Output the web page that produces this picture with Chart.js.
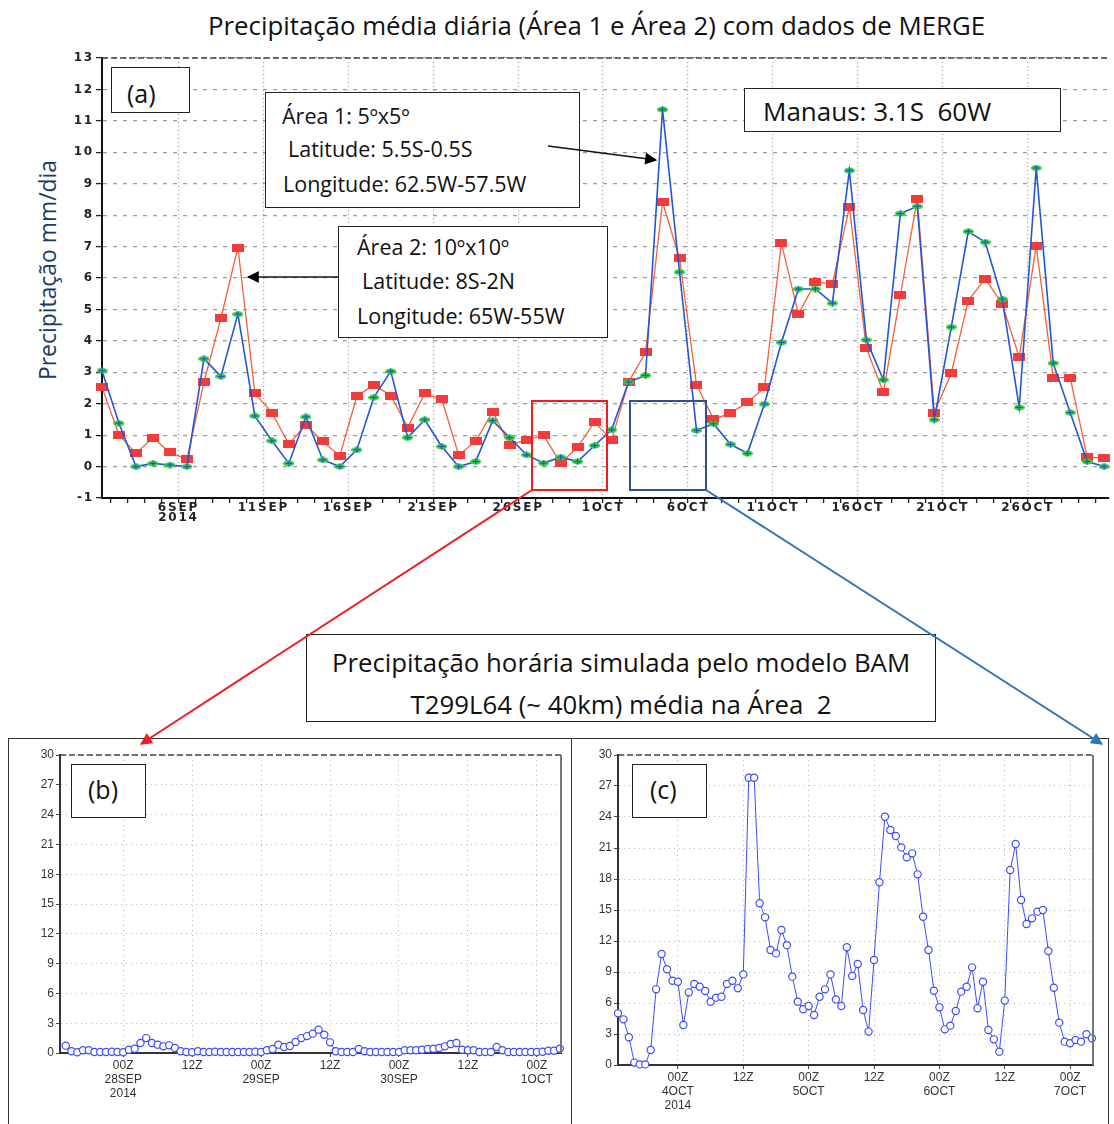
<!DOCTYPE html>
<html>
<head>
<meta charset="utf-8">
<script src="https://cdn.jsdelivr.net/npm/chart.js@4.4.1/dist/chart.umd.min.js"></script>
<style>
body { margin: 0; background: #fff; overflow: hidden; width: 1114px; height: 1124px; position: relative; font-family: 'Open Sans', sans-serif; color: #111; }
canvas { position: absolute; }
.box { position: absolute; border: 1.5px solid #222; background: #fff; box-sizing: border-box; }
.txt { position: absolute; white-space: nowrap; line-height: 1; }
.panel { position: absolute; border: 1.5px solid #333; box-sizing: border-box; }
</style>
</head>
<body>

<div class="txt" style="left:208px;top:13px;font-size:25.8px;">Precipitação média diária (Área 1 e Área 2) com dados de MERGE</div>
<div class="txt" style="left:48px;top:270px;font-size:22.9px;color:#203864;transform:translate(-50%,-50%) rotate(-90deg);">Precipitação mm/dia</div>

<canvas id="chartA" width="1114" height="540" style="left:0;top:0"></canvas>

<div class="panel" style="left:8px;top:738px;width:564px;height:400px"></div>
<div class="panel" style="left:571px;top:738px;width:538px;height:400px"></div>
<canvas id="chartB" width="563" height="386" style="left:8px;top:738px"></canvas>
<canvas id="chartC" width="537" height="386" style="left:571px;top:738px"></canvas>

<div class="box" style="left:111px;top:67px;width:79px;height:46px"></div>
<div class="txt" style="left:127px;top:81px;font-size:25px">(a)</div>

<div class="box" style="left:265px;top:92px;width:315px;height:116px"></div>
<div class="txt" style="left:282px;top:105px;font-size:21.5px">Área 1: 5ºx5º</div>
<div class="txt" style="left:288px;top:138px;font-size:21.5px">Latitude: 5.5S-0.5S</div>
<div class="txt" style="left:283px;top:173px;font-size:21.5px">Longitude: 62.5W-57.5W</div>

<div class="box" style="left:338px;top:226px;width:270px;height:112px"></div>
<div class="txt" style="left:357px;top:236px;font-size:21.5px">Área 2: 10ºx10º</div>
<div class="txt" style="left:362px;top:270px;font-size:21.5px">Latitude: 8S-2N</div>
<div class="txt" style="left:357px;top:305px;font-size:21.5px">Longitude: 65W-55W</div>

<div class="box" style="left:744px;top:88px;width:317px;height:44px"></div>
<div class="txt" style="left:763px;top:98px;font-size:26px">Manaus: 3.1S&nbsp; 60W</div>

<div class="box" style="left:306px;top:634px;width:630px;height:88px"></div>
<div class="txt" style="left:306px;width:630px;text-align:center;top:650px;font-size:25.8px">Precipitação horária simulada pelo modelo BAM</div>
<div class="txt" style="left:306px;width:630px;text-align:center;top:692px;font-size:25.8px">T299L64 (~ 40km) média na Área&nbsp; 2</div>

<div class="box" style="left:71px;top:764px;width:75px;height:54px"></div>
<div class="txt" style="left:88px;top:777px;font-size:25px">(b)</div>
<div class="box" style="left:632px;top:764px;width:75px;height:54px"></div>
<div class="txt" style="left:650px;top:777px;font-size:25px">(c)</div>

<svg width="1114" height="1124" style="position:absolute;left:0;top:0;pointer-events:none">
  <defs>
    <marker id="hRed" viewBox="0 0 10 10" refX="9" refY="5" markerWidth="14" markerHeight="12" orient="auto" markerUnits="userSpaceOnUse">
      <path d="M0,0 L10,5 L0,10 z" fill="#ee1c25"/>
    </marker>
    <marker id="hBlue" viewBox="0 0 10 10" refX="9" refY="5" markerWidth="14" markerHeight="12" orient="auto" markerUnits="userSpaceOnUse">
      <path d="M0,0 L10,5 L0,10 z" fill="#2e75b6"/>
    </marker>
    <marker id="hBig" viewBox="0 0 10 10" refX="9" refY="5" markerWidth="14" markerHeight="12" orient="auto" markerUnits="userSpaceOnUse">
      <path d="M0,0 L10,5 L0,10 z" fill="#000"/>
    </marker>
  </defs>
  <rect x="532" y="401" width="75" height="89" fill="none" stroke="#ee1c25" stroke-width="2"/>
  <rect x="630" y="401" width="76" height="89" fill="none" stroke="#2f528f" stroke-width="2"/>
  <line x1="532" y1="490" x2="141" y2="744" stroke="#ee1c25" stroke-width="2" marker-end="url(#hRed)"/>
  <line x1="706" y1="490" x2="1102" y2="744" stroke="#2e75b6" stroke-width="2" marker-end="url(#hBlue)"/>
  <line x1="548" y1="146" x2="656" y2="160" stroke="#111" stroke-width="1.3" marker-end="url(#hBig)"/>
  <line x1="338" y1="277" x2="248" y2="277" stroke="#111" stroke-width="1.3" marker-end="url(#hBig)"/>
</svg>

<script>
// (a) daily mean precipitation, MERGE, 1SEP 12Z .. 30OCT 12Z (mm/dia)
const area1 = [3.05, 1.38, 0.0, 0.1, 0.05, 0.0, 3.43, 2.87, 4.85, 1.61,
  0.82, 0.1, 1.58, 0.21, 0.0, 0.53, 2.2, 3.03, 0.92, 1.49,
  0.64, 0.0, 0.16, 1.46, 0.92, 0.37, 0.11, 0.30, 0.16, 0.67,
  1.17, 2.69, 2.90, 11.36, 6.19, 1.15, 1.36, 0.71, 0.42, 1.99,
  3.95, 5.65, 5.65, 5.2, 9.42, 4.03, 2.76, 8.05, 8.28, 1.49,
  4.44, 7.48, 7.14, 5.33, 1.88, 9.50, 3.29, 1.72, 0.16, 0.0];
const area2 = [2.52, 1.01, 0.42, 0.92, 0.45, 0.23, 2.68, 4.72, 6.97, 2.33,
  1.72, 0.71, 1.33, 0.80, 0.34, 2.23, 2.60, 2.26, 1.24, 2.33,
  2.14, 0.37, 0.80, 1.75, 0.69, 0.85, 0.99, 0.11, 0.62, 1.41,
  0.85, 2.69, 3.63, 8.42, 6.63, 2.60, 1.51, 1.70, 2.04, 2.52,
  7.11, 4.85, 5.86, 5.82, 8.25, 3.77, 2.36, 5.45, 8.52, 1.72,
  2.97, 5.28, 5.98, 5.17, 3.48, 7.03, 2.83, 2.83, 0.30, 0.27];
const aFirstDay = 0.5;   // days after 1SEP 00Z
const aTickDays = [5, 10, 15, 20, 25, 30, 35, 40, 45, 50, 55];
const aTickLabels = [['6SEP', '2014'], '11SEP', '16SEP', '21SEP', '26SEP', '1OCT', '6OCT', '11OCT', '16OCT', '21OCT', '26OCT'];

// (b) hourly BAM, Área 2, from 27SEP 14Z (hours after 28SEP 00Z)
const bFirstHour = -10;
const bPrecip = [0.74, 0.17, 0.07, 0.27, 0.27, 0.1, 0.1, 0.1, 0.13, 0.1,
  0.07, 0.33, 0.44, 1.0, 1.5, 1.0, 0.84, 0.67, 0.77, 0.5,
  0.17, 0.1, 0.07, 0.17, 0.1, 0.1, 0.13, 0.1, 0.1, 0.1,
  0.1, 0.1, 0.1, 0.13, 0.1, 0.27, 0.4, 0.84, 0.6, 0.7,
  1.1, 1.5, 1.7, 1.95, 2.35, 1.84, 1.07, 0.17, 0.1, 0.1,
  0.1, 0.4, 0.17, 0.1, 0.1, 0.1, 0.1, 0.1, 0.1, 0.27,
  0.27, 0.27, 0.33, 0.4, 0.44, 0.5, 0.67, 0.9, 1.0, 0.33,
  0.27, 0.27, 0.1, 0.1, 0.1, 0.6, 0.27, 0.1, 0.1, 0.1,
  0.1, 0.1, 0.1, 0.13, 0.23, 0.23, 0.44];
const bTickHours = [0, 12, 24, 36, 48, 60, 72];
const bTickLabels = [['00Z', '28SEP', '2014'], '12Z', ['00Z', '29SEP'], '12Z', ['00Z', '30SEP'], '12Z', ['00Z', '1OCT']];

// (c) hourly BAM, Área 2, from 3OCT 13Z (hours after 4OCT 00Z)
const cFirstHour = -11;
const cPrecip = [5.0, 4.42, 2.68, 0.23, 0.06, 0.06, 1.45, 7.32, 10.74, 9.26,
  8.16, 8.06, 3.87, 7.03, 7.84, 7.58, 7.16, 6.13, 6.52, 6.61,
  7.84, 8.16, 7.42, 8.77, 27.8, 27.8, 15.65, 14.29, 11.13, 10.8,
  13.06, 11.6, 8.55, 6.13, 5.39, 5.71, 4.84, 6.61, 7.32, 8.77,
  6.35, 5.71, 11.4, 8.61, 9.77, 5.32, 3.23, 10.16, 17.68, 24.03,
  22.74, 22.16, 21.06, 20.1, 20.48, 18.45, 14.35, 11.13, 7.19, 5.58,
  3.45, 3.81, 5.23, 7.1, 7.58, 9.45, 5.48, 8.06, 3.39, 2.48,
  1.29, 6.23, 18.87, 21.39, 15.97, 13.65, 14.19, 14.84, 15.0, 11.03,
  7.48, 4.1, 2.26, 2.1, 2.42, 2.26, 2.97, 2.58];
const cTickHours = [0, 12, 24, 36, 48, 60, 72];
const cTickLabels = [['00Z', '4OCT', '2014'], '12Z', ['00Z', '5OCT'], '12Z', ['00Z', '6OCT'], '12Z', ['00Z', '7OCT']];

const hourTicks = [0, 3, 6, 9, 12, 15, 18, 21, 24, 27, 30];

// plot frame: dashed top and optional right edge
const frame = {
  id: 'frame',
  afterDraw(chart, args, opts) {
    const { ctx, chartArea: a } = chart;
    ctx.save();
    ctx.strokeStyle = '#444';
    ctx.lineWidth = 1.5;
    ctx.setLineDash([6, 3]);
    ctx.beginPath(); ctx.moveTo(a.left, a.top); ctx.lineTo(a.right, a.top); ctx.stroke();
    if (opts.right) {
      ctx.setLineDash([]);
      ctx.strokeStyle = '#777';
      ctx.lineWidth = 2;
      ctx.beginPath(); ctx.moveTo(a.right, a.top); ctx.lineTo(a.right, a.bottom); ctx.stroke();
    }
    ctx.restore();
  }
};

// GrADS style labels are widely spaced
const spacing = {
  id: 'spacing',
  beforeDraw(chart) { chart.ctx.letterSpacing = '1.8px'; },
  afterDraw(chart) { chart.ctx.letterSpacing = '0px'; }
};

function redMark() {
  const c = document.createElement('canvas');
  c.width = 12; c.height = 8;
  const g = c.getContext('2d');
  g.fillStyle = '#f23b3b';
  g.fillRect(0, 0, 12, 8);
  return c;
}

function greenMark() {
  const c = document.createElement('canvas');
  c.width = 11; c.height = 7;
  const g = c.getContext('2d');
  g.fillStyle = '#2fcf3a';
  g.beginPath(); g.ellipse(5.5, 3.5, 5.5, 3, 0, 0, Math.PI * 2); g.fill();
  g.strokeStyle = '#1f4fd0'; g.lineWidth = 1.2;
  g.beginPath(); g.moveTo(5.5, 0.5); g.lineTo(5.5, 6.5); g.moveTo(2, 3.5); g.lineTo(9, 3.5); g.stroke();
  return c;
}

function renderDaily() {
  const gradsFont = { family: 'DejaVu Sans', size: 12, weight: 'bold', lineHeight: 0.8 };
  new Chart(document.getElementById('chartA'), {
    type: 'line',
    data: {
      datasets: [{
        label: 'Área 1',
        data: area1.map((v, i) => ({ x: aFirstDay + i, y: v })),
        borderColor: '#2456d3',
        borderWidth: 1.6,
        pointStyle: greenMark(),
        pointRadius: 4,
        clip: false,
        tension: 0
      }, {
        label: 'Área 2',
        data: area2.map((v, i) => ({ x: aFirstDay + i, y: v })),
        borderColor: '#f4603c',
        borderWidth: 1.3,
        pointStyle: redMark(),
        pointRadius: 4,
        clip: false,
        tension: 0
      }]
    },
    options: {
      responsive: false,
      animation: false,
      events: [],
      layout: { padding: { top: 58, right: 0, left: 0, bottom: 0 } },
      plugins: { legend: { display: false }, tooltip: { enabled: false }, frame: {} },
      scales: {
        x: {
          type: 'linear',
          min: 0.5,
          max: 59.75,
          afterFit: s => { s.height = 42; },
          afterBuildTicks: s => {
            const t = [];
            for (let d = 1; d <= 59; d++) t.push({ value: d });
            s.ticks = t;
          },
          ticks: {
            autoSkip: false,
            maxRotation: 0,
            padding: 0,
            color: '#222',
            font: gradsFont,
            callback: v => {
              const k = aTickDays.indexOf(v);
              return k >= 0 ? aTickLabels[k] : '';
            }
          },
          grid: {
            color: c => (c.tick && aTickDays.includes(c.tick.value)) ? '#9a9a9a' : 'rgba(0,0,0,0)',
            lineWidth: 1.2,
            tickLength: 5,
            tickColor: '#222',
            tickWidth: 1.3
          },
          border: { display: true, color: '#111', width: 2, dash: [1, 3] }
        },
        y: {
          min: -1,
          max: 13,
          afterFit: s => { s.width = 102; },
          ticks: { stepSize: 1, padding: 2, color: '#222', font: gradsFont },
          grid: { color: '#9a9a9a', lineWidth: 1.2, tickLength: 6, tickColor: '#222', tickWidth: 1.3 },
          border: { display: true, color: '#111', width: 2, dash: [4, 6] }
        }
      }
    },
    plugins: [spacing, frame]
  });
}

function renderHourly(id, first, values, tickHours, tickLabels, yWidth, xHeight, rightPad) {
  const lab = { family: "'Liberation Sans Narrow', 'Liberation Sans', sans-serif", size: 12, lineHeight: 1.2 };
  new Chart(document.getElementById(id), {
    type: 'line',
    data: {
      datasets: [{
        data: values.map((v, i) => ({ x: first + i, y: v })),
        borderColor: '#3d4cf5',
        borderWidth: 1,
        pointStyle: 'circle',
        pointRadius: 3.6,
        pointBorderWidth: 1.2,
        pointBackgroundColor: '#fff',
        pointBorderColor: '#3d4cf5',
        clip: false,
        tension: 0
      }]
    },
    options: {
      responsive: false,
      animation: false,
      events: [],
      layout: { padding: { top: 17, right: rightPad, left: 0, bottom: 0 } },
      plugins: { legend: { display: false }, tooltip: { enabled: false }, frame: { right: true } },
      scales: {
        x: {
          type: 'linear',
          min: first - (id === 'chartB' ? 1 : 0),
          max: 76.2,
          afterFit: s => { s.height = xHeight; },
          afterBuildTicks: s => { s.ticks = tickHours.map(h => ({ value: h })); },
          ticks: {
            autoSkip: false,
            maxRotation: 0,
            padding: 1,
            color: '#333',
            font: lab,
            callback: (v, i) => tickLabels[i]
          },
          grid: { color: '#b5b5b5', lineWidth: 1, tickLength: 4, tickColor: '#444' },
          border: { display: true, color: '#333', width: 2, dash: [1, 4] }
        },
        y: {
          min: 0,
          max: 30,
          afterFit: s => { s.width = yWidth; },
          afterBuildTicks: s => { s.ticks = hourTicks.map(v => ({ value: v })); },
          ticks: { padding: 2, color: '#333', font: lab },
          grid: { color: '#b5b5b5', lineWidth: 1, tickLength: 4, tickColor: '#444' },
          border: { display: true, color: '#333', width: 2, dash: [1, 4] }
        }
      }
    },
    plugins: [frame]
  });
}

function init() {
  renderDaily();
  renderHourly('chartB', bFirstHour, bPrecip, bTickHours, bTickLabels, 52, 71, 10);
  renderHourly('chartC', cFirstHour, cPrecip, cTickHours, cTickLabels, 47, 59, 15);
}

document.addEventListener('DOMContentLoaded', init);
</script>
</body>
</html>
